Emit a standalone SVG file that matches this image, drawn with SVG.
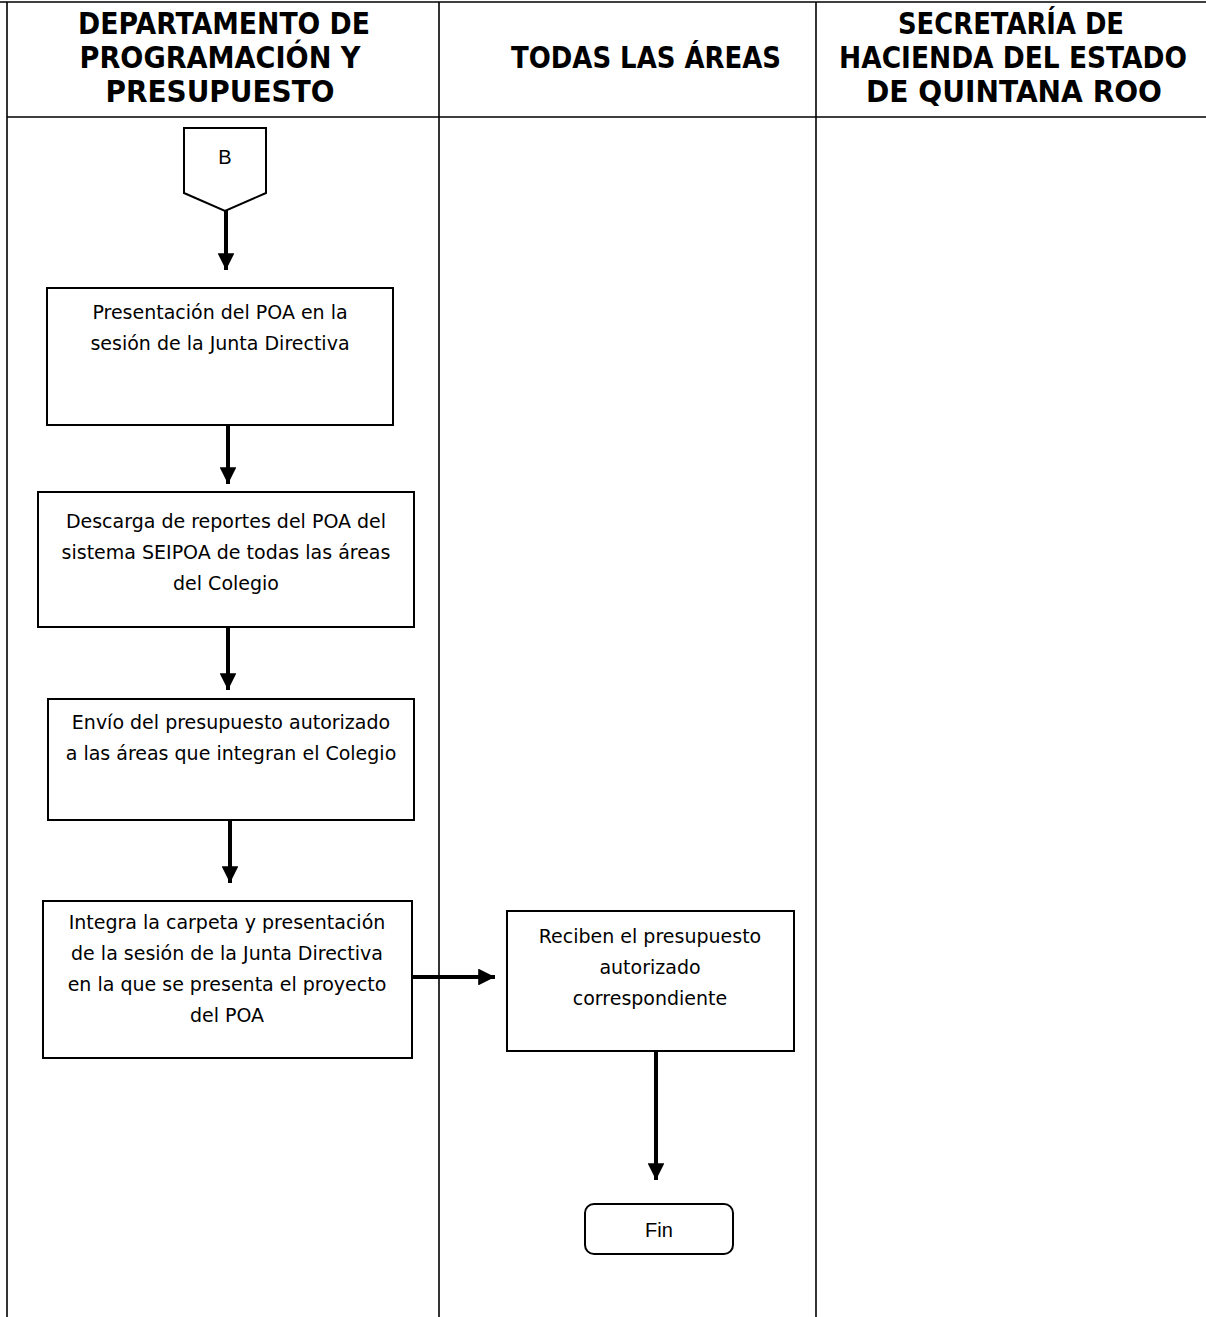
<svg xmlns="http://www.w3.org/2000/svg" width="1206" height="1317" viewBox="0 0 1206 1317">
<defs>
<style>
.lane{stroke:#000;stroke-width:1.6;fill:none}
.hdr{font-family:"DejaVu Sans","Liberation Sans",sans-serif;font-weight:bold;font-size:26px;fill:#000;text-anchor:middle}
.box{fill:#fff;stroke:#000;stroke-width:2}
.txt{font-family:"DejaVu Sans","Liberation Sans",sans-serif;font-size:19px;fill:#000;text-anchor:middle}
.arial{font-family:"Liberation Sans",Arial,sans-serif;font-size:20px;fill:#000;text-anchor:middle}
.conn{stroke:#000;stroke-width:4;fill:none}
</style>
<marker id="ah" viewBox="0 0 10 10" refX="10" refY="5" markerWidth="4.2" markerHeight="4.2" markerUnits="strokeWidth" orient="auto">
<path d="M0,0 L10,5 L0,10 Z" fill="#000"/>
</marker>
</defs>
<rect width="1206" height="1317" fill="#fff"/>
<g id="lanes">
<line class="lane" x1="0" y1="2" x2="1206" y2="2"/>
<line class="lane" x1="7" y1="2" x2="7" y2="1317"/>
<line class="lane" x1="439" y1="2" x2="439" y2="1317"/>
<line class="lane" x1="816" y1="2" x2="816" y2="1317"/>
<line class="lane" x1="7" y1="117" x2="1206" y2="117"/>
</g>
<g id="headers">
<text class="hdr" transform="translate(224,34) scale(1,1.15)" textLength="292" lengthAdjust="spacingAndGlyphs">DEPARTAMENTO DE</text>
<text class="hdr" transform="translate(220,68) scale(1,1.15)" textLength="281" lengthAdjust="spacingAndGlyphs">PROGRAMACIÓN Y</text>
<text class="hdr" transform="translate(220,102) scale(1,1.15)" textLength="229" lengthAdjust="spacingAndGlyphs">PRESUPUESTO</text>
<text class="hdr" transform="translate(646,68) scale(1,1.15)" textLength="270" lengthAdjust="spacingAndGlyphs">TODAS LAS ÁREAS</text>
<text class="hdr" transform="translate(1011,34) scale(1,1.15)" textLength="226" lengthAdjust="spacingAndGlyphs">SECRETARÍA DE</text>
<text class="hdr" transform="translate(1013,68) scale(1,1.15)" textLength="348" lengthAdjust="spacingAndGlyphs">HACIENDA DEL ESTADO</text>
<text class="hdr" transform="translate(1014,102) scale(1,1.15)" textLength="296" lengthAdjust="spacingAndGlyphs">DE QUINTANA ROO</text>
</g>
<g id="connectors">
<line class="conn" x1="226" y1="210" x2="226" y2="270" marker-end="url(#ah)"/>
<line class="conn" x1="228" y1="425" x2="228" y2="484" marker-end="url(#ah)"/>
<line class="conn" x1="228" y1="627" x2="228" y2="690" marker-end="url(#ah)"/>
<line class="conn" x1="230" y1="820" x2="230" y2="883" marker-end="url(#ah)"/>
<line class="conn" x1="412" y1="977" x2="495" y2="977" marker-end="url(#ah)"/>
<line class="conn" x1="656" y1="1051" x2="656" y2="1180" marker-end="url(#ah)"/>
</g>
<g id="node-b">
<path class="box" stroke-width="1.5" d="M184,128 H266 V193 L225,211 L184,193 Z"/>
<text class="arial" x="225" y="164">B</text>
</g>
<g id="node-1">
<rect class="box" x="47" y="288" width="346" height="137"/>
<text class="txt" x="220" y="319">Presentación del POA en la</text>
<text class="txt" x="220" y="350">sesión de la Junta Directiva</text>
</g>
<g id="node-2">
<rect class="box" x="38" y="492" width="376" height="135"/>
<text class="txt" x="226" y="528">Descarga de reportes del POA del</text>
<text class="txt" x="226" y="559">sistema SEIPOA de todas las áreas</text>
<text class="txt" x="226" y="590">del Colegio</text>
</g>
<g id="node-3">
<rect class="box" x="48" y="699" width="366" height="121"/>
<text class="txt" x="231" y="729">Envío del presupuesto autorizado</text>
<text class="txt" x="231" y="760">a las áreas que integran el Colegio</text>
</g>
<g id="node-4">
<rect class="box" x="43" y="901" width="369" height="157"/>
<text class="txt" x="227" y="929">Integra la carpeta y presentación</text>
<text class="txt" x="227" y="960">de la sesión de la Junta Directiva</text>
<text class="txt" x="227" y="991">en la que se presenta el proyecto</text>
<text class="txt" x="227" y="1022">del POA</text>
</g>
<g id="node-5">
<rect class="box" x="507" y="911" width="287" height="140"/>
<text class="txt" x="650" y="943">Reciben el presupuesto</text>
<text class="txt" x="650" y="974">autorizado</text>
<text class="txt" x="650" y="1005">correspondiente</text>
</g>
<g id="node-fin">
<rect class="box" stroke-width="1.5" x="585" y="1204" width="148" height="50" rx="9"/>
<text class="arial" x="659" y="1237">Fin</text>
</g>
</svg>
